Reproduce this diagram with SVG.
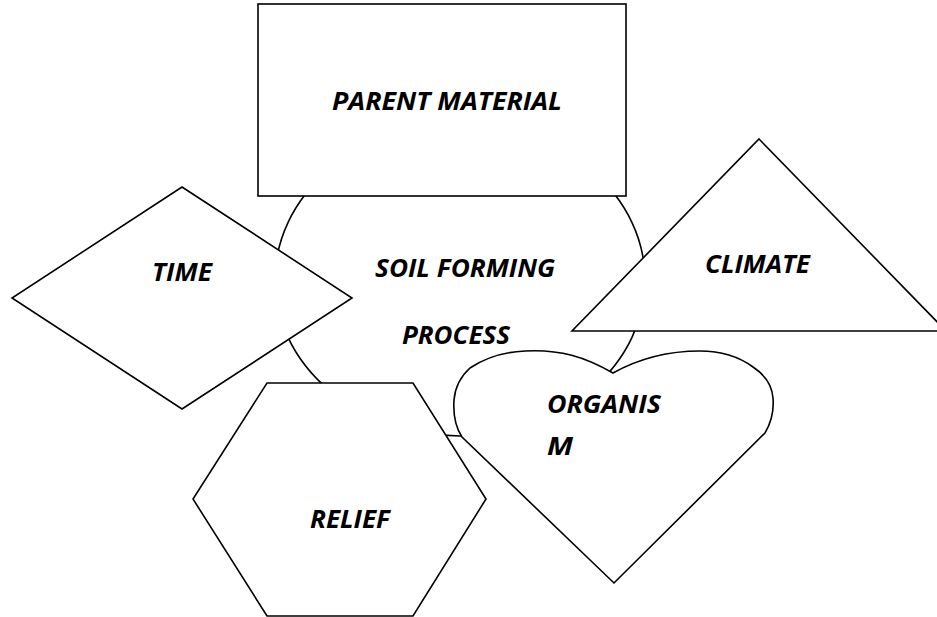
<svg xmlns="http://www.w3.org/2000/svg" width="937" height="617" viewBox="0 0 937 617">
<style>
.s{fill:#fff;stroke:#000;stroke-width:1.6;stroke-linejoin:miter}
.t{font-family:"Open Sans","Liberation Sans",sans-serif;font-weight:bold;font-style:italic;font-size:25.5px;fill:#000}
</style>
<rect width="937" height="617" fill="#fff"/>
<g id="soil-forming-process">
<ellipse class="s" cx="460" cy="280" rx="185" ry="156"/>
</g>
<g id="parent-material">
<rect class="s" x="258" y="4" width="368" height="192"/>
<text class="t" x="332" y="110" textLength="230" lengthAdjust="spacingAndGlyphs">PARENT MATERIAL</text>
</g>
<g id="time">
<polygon class="s" points="182,187 352,298 182,409 12,298"/>
<text class="t" x="152" y="281" textLength="60" lengthAdjust="spacingAndGlyphs">TIME</text>
</g>
<g id="climate">
<polygon class="s" points="759,139 946,331 572,331"/>
<text class="t" x="705" y="273" textLength="105" lengthAdjust="spacingAndGlyphs">CLIMATE</text>
</g>
<g id="relief">
<polygon class="s" points="267,383 413,383 486,499 413,616 267,616 193,499"/>
<text class="t" x="310" y="528" textLength="80" lengthAdjust="spacingAndGlyphs">RELIEF</text>
</g>
<g id="organism">
<path class="s" d="M613,373 C585,357 560,349 525,351 C500,352 482,360 470,368 C460,377 455,388 454,400 C453,415 456,428 462,437 L614,583 L765,433 C771,423 774,410 773,398 C772,385 765,375 753,367 C738,356 718,351 700,351 C670,351 640,358 613,373 Z"/>
<text class="t" x="547" y="413" textLength="114" lengthAdjust="spacingAndGlyphs">ORGANIS</text>
<text class="t" x="547" y="455" textLength="26" lengthAdjust="spacingAndGlyphs">M</text>
</g>
<g id="process-label">
<text class="t" x="375" y="277" textLength="180" lengthAdjust="spacingAndGlyphs">SOIL FORMING</text>
<text class="t" x="402" y="344" textLength="108" lengthAdjust="spacingAndGlyphs">PROCESS</text>
</g>
<g id="connectors"></g>
</svg>
